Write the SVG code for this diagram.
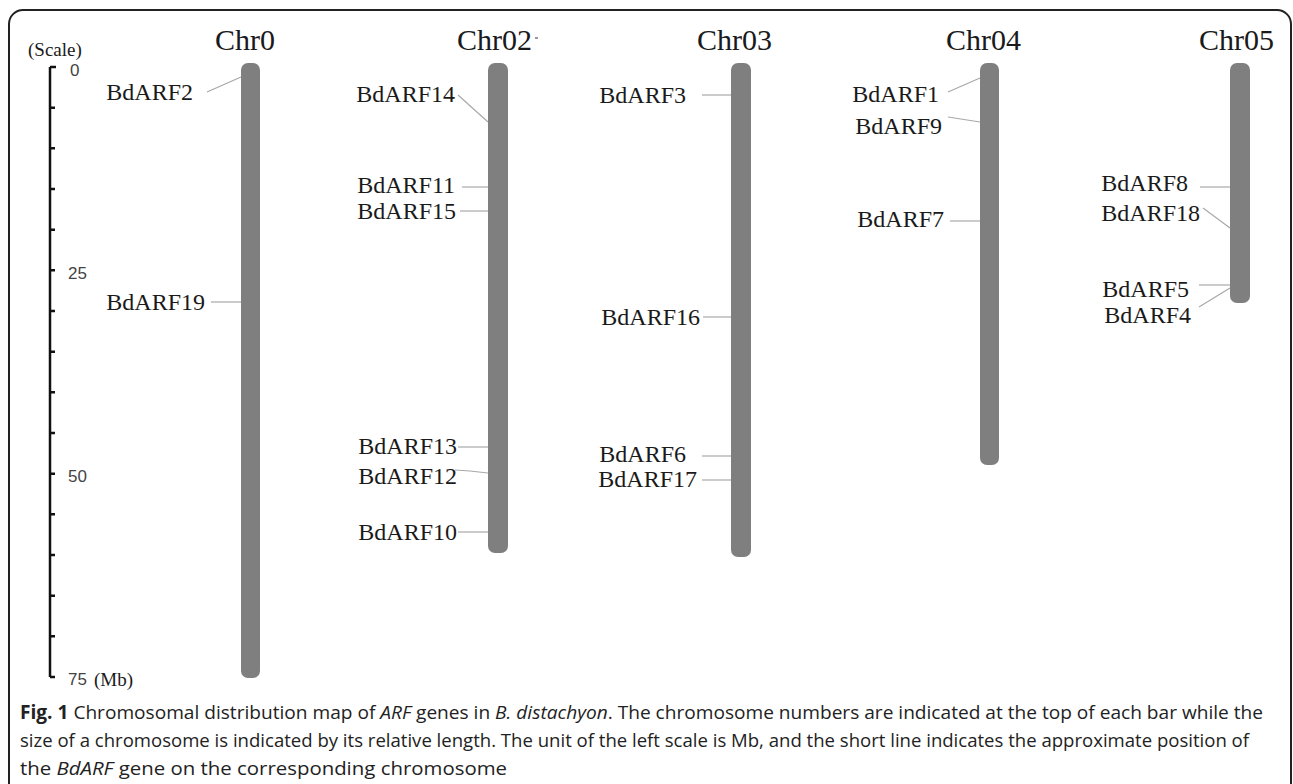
<svg xmlns="http://www.w3.org/2000/svg" width="1293" height="784" viewBox="0 0 1293 784">
<style>
.frame{fill:none;stroke:#222;stroke-width:2}
.bar{fill:#7f7f7f}
.title{font-family:"Liberation Serif",serif;font-size:30px;fill:#1a1a1a}
.lbl{font-family:"Liberation Serif",serif;font-size:24px;fill:#1a1a1a;text-anchor:end}
.lead{stroke:#a8a8a8;stroke-width:1.2;fill:none}
.axis{stroke:#111;stroke-width:2.5;fill:none}
.num{font-family:"Liberation Sans",sans-serif;font-size:17px;fill:#444}
.ser{font-family:"Liberation Serif",serif;font-size:19px;fill:#1a1a1a}
.cap{font-family:"Open Sans","Noto Sans",sans-serif;font-size:19px;fill:#222}
</style>
<rect class="frame" x="9" y="10" width="1282" height="800" rx="14"/>

<g id="scale">
<text class="ser" x="28" y="56">(Scale)</text>
<path class="axis" d="M50,67 V677"/>
<path class="axis" d="M50,67 h6 M50,107.7 h5 M50,148.3 h5 M50,189 h5 M50,229.7 h5 M50,270.3 h5 M50,311 h5 M50,351.7 h5 M50,392.3 h5 M50,433 h5 M50,473.7 h5 M50,514.3 h5 M50,555 h5 M50,595.7 h5 M50,636.3 h5 M50,677 h5"/>
<text class="num" x="70" y="76">0</text>
<text class="num" x="68" y="279">25</text>
<text class="num" x="68" y="482">50</text>
<text class="num" x="68" y="685">75</text>
<text class="ser" x="94" y="686">(Mb)</text>
</g>

<g id="chr0">
<text class="title" x="215" y="50">Chr0</text>
<rect class="bar" x="241" y="63" width="19" height="615" rx="7"/>
</g>
<g id="chr02">
<text class="title" x="457" y="50">Chr02</text>
<line x1="535" y1="38" x2="538" y2="38" stroke="#555" stroke-width="1.2"/>
<rect class="bar" x="488" y="63" width="20" height="490" rx="7"/>
</g>
<g id="chr03">
<text class="title" x="697" y="50">Chr03</text>
<rect class="bar" x="731" y="63" width="20" height="494" rx="7"/>
</g>
<g id="chr04">
<text class="title" x="946" y="50">Chr04</text>
<rect class="bar" x="980" y="63" width="19" height="402" rx="7"/>
</g>
<g id="chr05">
<text class="title" x="1199" y="50">Chr05</text>
<rect class="bar" x="1230" y="63" width="20" height="240" rx="7"/>
</g>

<g id="genes">
<text class="lbl" x="193" y="100">BdARF2</text>
<text class="lbl" x="205" y="310">BdARF19</text>
<text class="lbl" x="455" y="102">BdARF14</text>
<text class="lbl" x="455" y="193">BdARF11</text>
<text class="lbl" x="456" y="219">BdARF15</text>
<text class="lbl" x="457" y="454">BdARF13</text>
<text class="lbl" x="457" y="484">BdARF12</text>
<text class="lbl" x="457" y="540">BdARF10</text>
<text class="lbl" x="686" y="103">BdARF3</text>
<text class="lbl" x="700" y="325">BdARF16</text>
<text class="lbl" x="686" y="462">BdARF6</text>
<text class="lbl" x="697" y="487">BdARF17</text>
<text class="lbl" x="939" y="102">BdARF1</text>
<text class="lbl" x="942" y="134">BdARF9</text>
<text class="lbl" x="944" y="227">BdARF7</text>
<text class="lbl" x="1188" y="191">BdARF8</text>
<text class="lbl" x="1200" y="221">BdARF18</text>
<text class="lbl" x="1189" y="297">BdARF5</text>
<text class="lbl" x="1191" y="323">BdARF4</text>
</g>

<g id="connectors">
<line class="lead" x1="207" y1="92" x2="241" y2="77"/>
<line class="lead" x1="211" y1="302" x2="241" y2="302"/>
<line class="lead" x1="458" y1="95" x2="488" y2="122"/>
<line class="lead" x1="462" y1="187" x2="488" y2="187"/>
<line class="lead" x1="460" y1="211" x2="488" y2="211"/>
<line class="lead" x1="458" y1="447" x2="488" y2="447"/>
<polyline class="lead" points="455,470 470,471 488,473"/>
<line class="lead" x1="458" y1="532" x2="488" y2="532"/>
<line class="lead" x1="702" y1="95" x2="731" y2="95"/>
<line class="lead" x1="703" y1="317" x2="731" y2="317"/>
<line class="lead" x1="702" y1="456" x2="731" y2="456"/>
<line class="lead" x1="702" y1="480" x2="731" y2="480"/>
<line class="lead" x1="948" y1="92" x2="980" y2="78"/>
<line class="lead" x1="948" y1="117" x2="980" y2="122"/>
<line class="lead" x1="950" y1="221" x2="980" y2="221"/>
<line class="lead" x1="1200" y1="187" x2="1230" y2="187"/>
<line class="lead" x1="1203" y1="208" x2="1230" y2="228"/>
<line class="lead" x1="1199" y1="285" x2="1230" y2="285"/>
<line class="lead" x1="1199" y1="307" x2="1230" y2="288"/>
</g>

<g id="caption">
<text class="cap" x="20" y="719" textLength="1243" lengthAdjust="spacingAndGlyphs"><tspan font-weight="bold">Fig. 1</tspan> Chromosomal distribution map of <tspan font-style="italic">ARF</tspan> genes in <tspan font-style="italic">B. distachyon</tspan>. The chromosome numbers are indicated at the top of each bar while the</text>
<text class="cap" x="20" y="747" textLength="1229" lengthAdjust="spacingAndGlyphs">size of a chromosome is indicated by its relative length. The unit of the left scale is Mb, and the short line indicates the approximate position of</text>
<text class="cap" x="20" y="775" textLength="487" lengthAdjust="spacingAndGlyphs">the <tspan font-style="italic">BdARF</tspan> gene on the corresponding chromosome</text>
</g>
</svg>
